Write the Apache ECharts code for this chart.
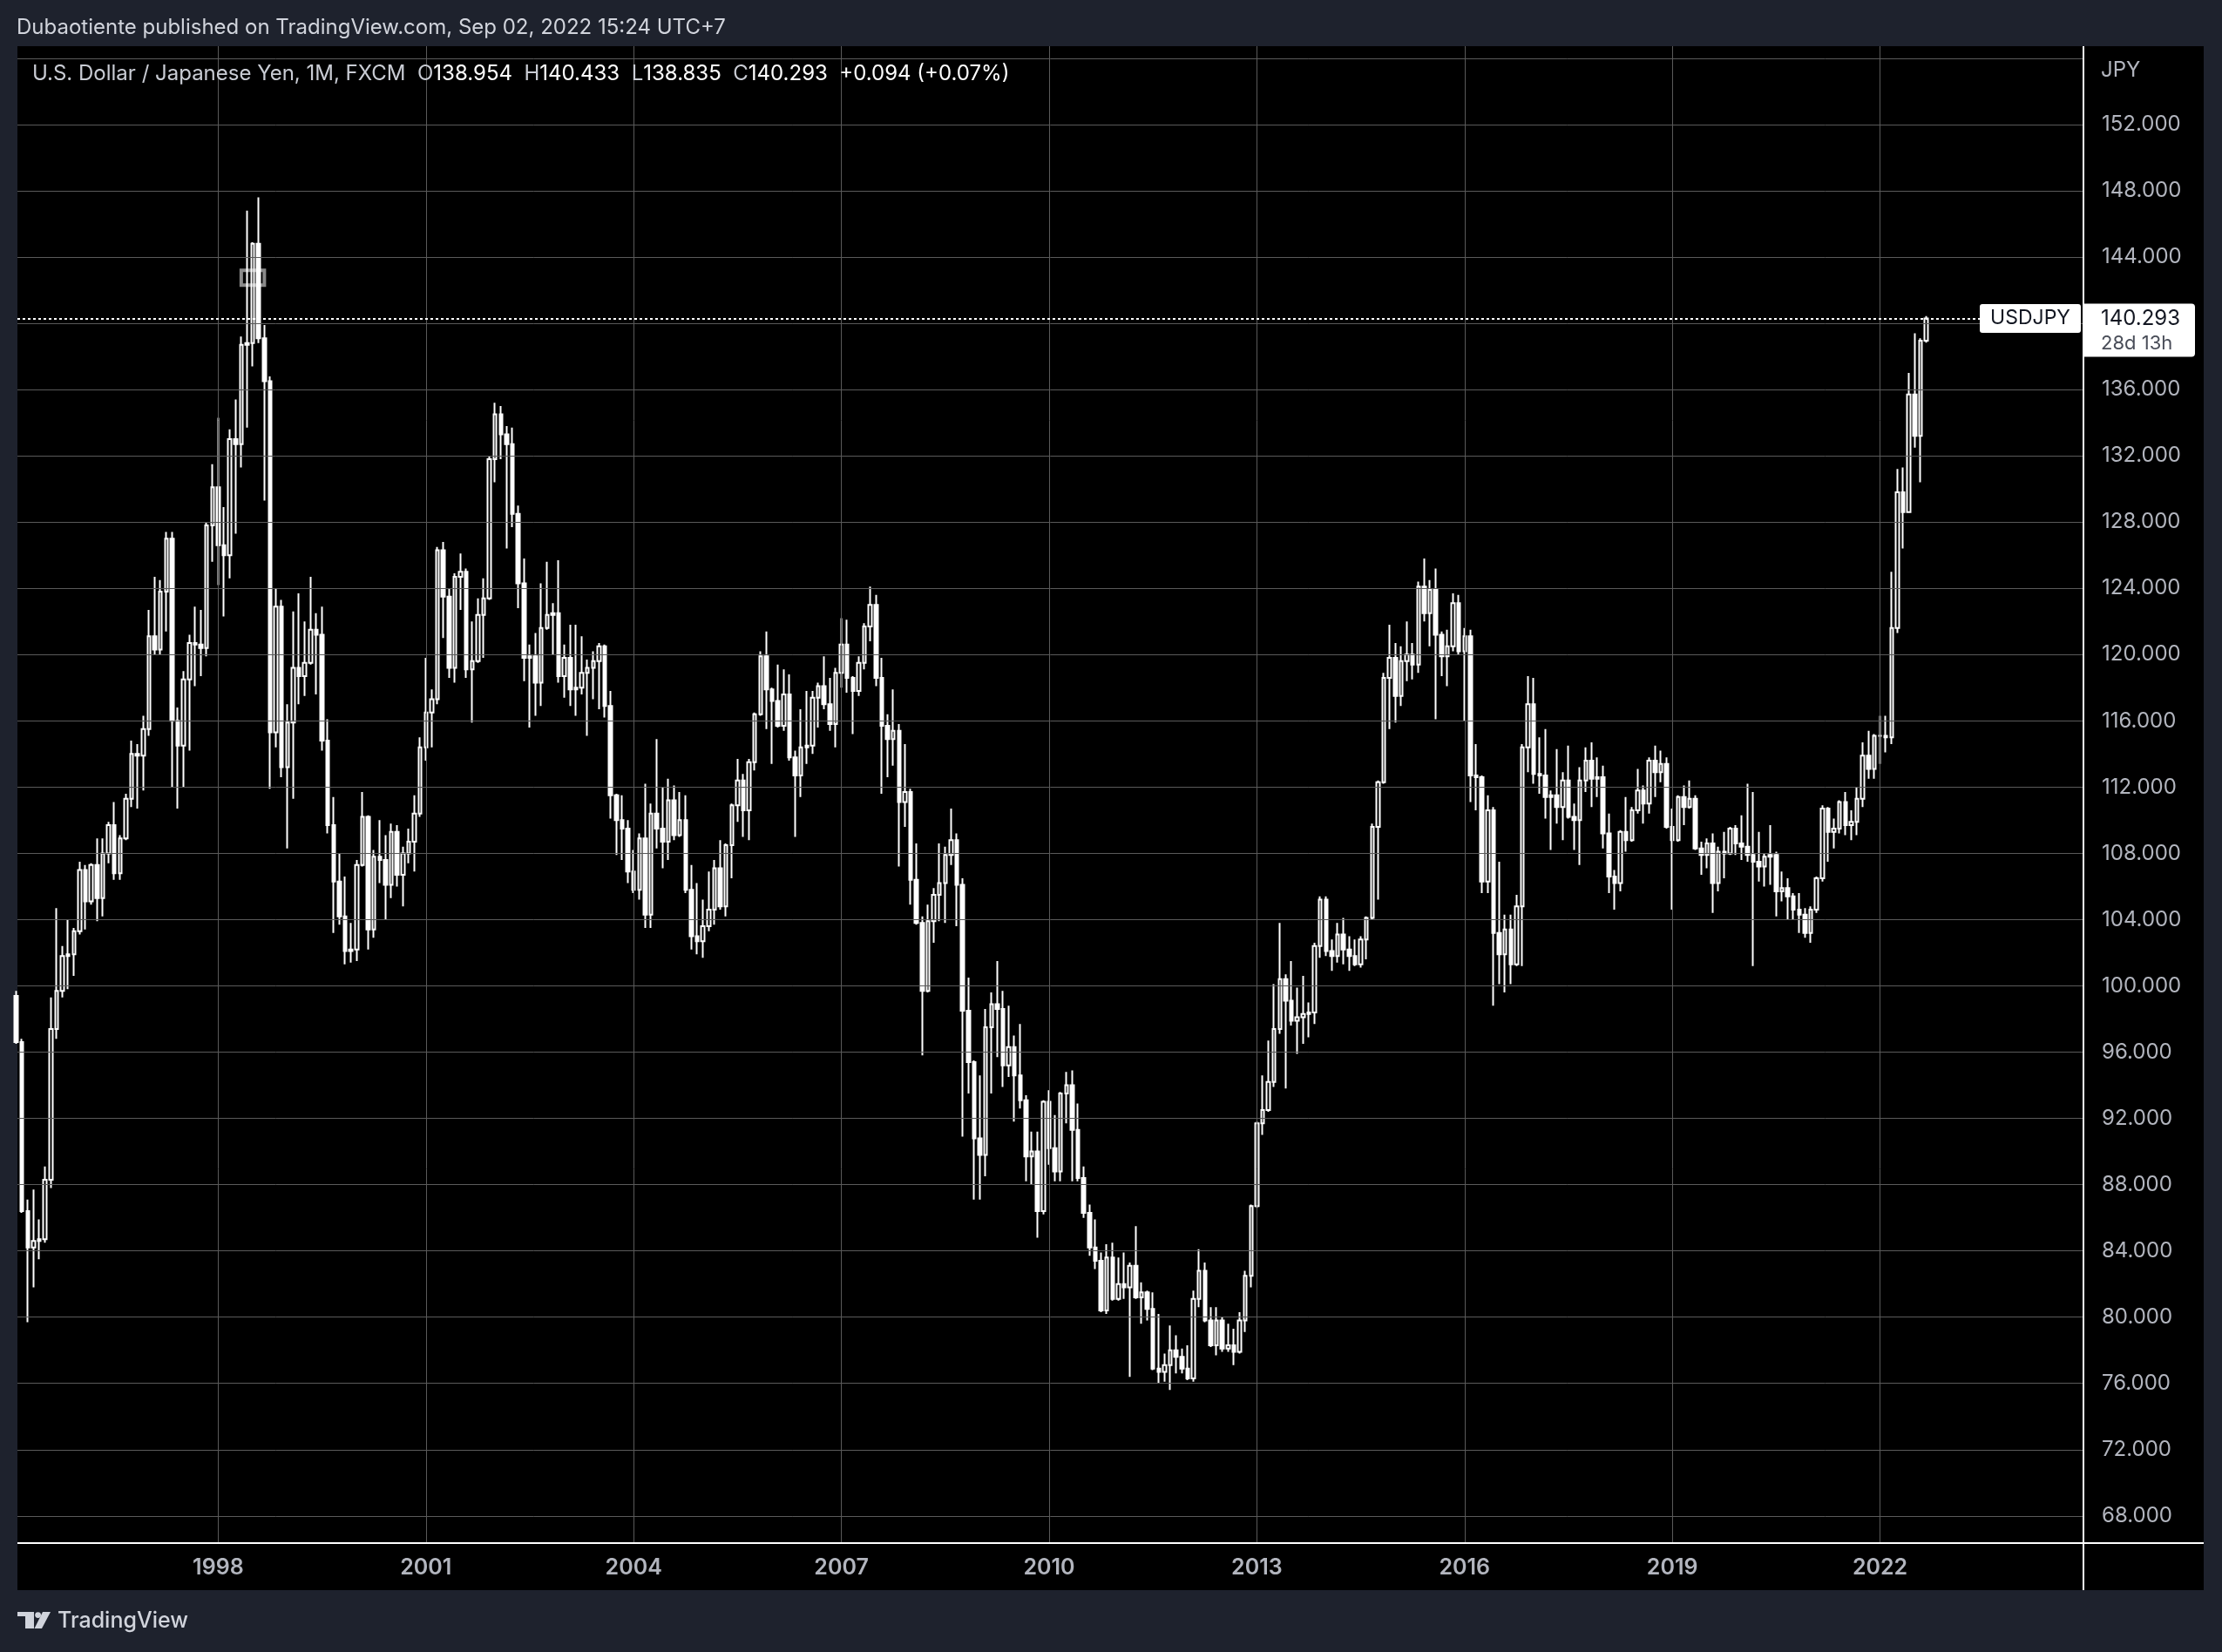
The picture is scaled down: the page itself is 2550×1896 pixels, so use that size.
<!DOCTYPE html>
<html>
<head>
<meta charset="utf-8">
<script src="https://cdn.jsdelivr.net/npm/echarts@6/dist/echarts.min.js"></script>
<style>
html,body{margin:0;padding:0;background:#1e222d;}
#c{width:2550px;height:1896px;}
</style>
</head>
<body>
<div id="c"></div>
<script>
// ---------- DATA ----------
const startYear = 1995, startMonth = 2;   // first monthly candle: Feb 1995
// monthly candles: [open, high, low, close]
const candles = [
  // 1995 (Feb-Dec)
  [99.4,99.7,96.5,96.6],[96.6,96.8,86.3,86.4],[86.4,87.1,79.7,84.2],[84.2,87.7,81.8,84.6],[84.6,85.9,83.5,84.7],[84.7,89.1,84.5,88.3],[88.3,99.3,87.8,97.4],[97.4,104.7,96.8,99.7],[99.7,102.4,99.3,101.8],[101.8,104.0,99.8,101.9],[101.9,103.5,100.6,103.3],
  // 1996
  [103.3,107.5,103.1,107.0],[107.0,107.3,103.4,105.1],[105.1,107.4,104.9,107.3],[107.3,108.9,103.9,105.3],[105.3,108.9,104.2,108.0],[108.0,109.9,107.4,109.7],[109.7,111.1,106.4,106.8],[106.8,109.1,106.4,108.9],[108.9,111.6,108.8,111.3],[111.3,114.8,110.8,114.0],[114.0,114.6,110.7,113.9],[113.9,116.3,111.8,115.5],
  // 1997
  [115.5,122.7,115.1,121.1],[121.1,124.7,120.0,120.3],[120.3,124.5,120.0,123.8],[123.8,127.4,121.4,127.0],[127.0,127.4,112.0,116.0],[116.0,116.8,110.7,114.5],[114.5,119.0,112.0,118.5],[118.5,121.2,114.2,120.7],[120.7,122.9,118.1,120.6],[120.6,122.7,118.7,120.4],[120.4,128.0,119.9,127.8],[127.8,131.5,125.6,130.1],
  // 1998
  [130.1,134.3,124.2,126.6],[126.6,128.9,122.3,126.0],[126.0,133.6,124.6,133.0],[133.0,135.4,127.3,132.7],[132.7,139.2,131.3,138.7],[138.7,146.8,133.7,138.8],[138.8,144.9,137.4,144.8],[144.8,147.6,138.8,139.1],[139.1,139.9,129.3,136.5],[136.5,136.8,111.9,115.3],[115.3,124.0,114.4,122.9],[122.9,123.3,112.6,113.2],
  // 1999
  [113.2,117.0,108.3,115.9],[115.9,122.6,111.3,119.2],[119.2,123.7,117.0,118.7],[118.7,122.0,117.5,119.5],[119.5,124.7,119.4,121.5],[121.5,122.5,117.6,121.2],[121.2,122.9,114.2,114.8],[114.8,116.1,109.2,109.7],[109.7,111.4,103.2,106.3],[106.3,108.0,103.7,104.2],[104.2,106.6,101.3,102.1],[102.1,103.8,101.4,102.2],
  // 2000
  [102.2,107.6,101.5,107.3],[107.3,111.7,107.2,110.2],[110.2,110.3,102.2,103.4],[103.4,108.2,102.9,107.8],[107.8,110.0,106.2,107.6],[107.6,109.1,104.0,106.1],[106.1,109.8,105.3,109.3],[109.3,109.7,106.0,106.7],[106.7,108.4,104.8,108.0],[108.0,109.5,107.4,108.7],[108.7,111.5,106.9,110.4],[110.4,115.0,110.2,114.4],
  // 2001
  [114.4,119.8,113.6,116.5],[116.5,117.9,114.4,117.3],[117.3,126.5,117.0,126.3],[126.3,126.8,121.0,123.5],[123.5,124.0,118.6,119.2],[119.2,124.9,118.3,124.7],[124.7,126.1,122.7,125.0],[125.0,125.2,118.6,119.1],[119.1,122.0,115.9,119.6],[119.6,123.4,119.5,122.4],[122.4,124.6,119.8,123.4],[123.4,132.0,123.3,131.8],
  // 2002
  [131.8,135.2,130.4,134.5],[134.5,135.0,131.8,133.3],[133.3,133.8,126.4,132.7],[132.7,133.7,127.7,128.5],[128.5,129.0,122.8,124.3],[124.3,125.8,118.4,119.8],[119.8,120.6,115.6,119.9],[119.9,121.3,116.3,118.3],[118.3,124.3,116.9,121.6],[121.6,125.6,121.5,122.4],[122.4,123.1,120.0,122.5],[122.5,125.7,118.3,118.7],
  // 2003
  [118.7,120.6,117.4,119.8],[119.8,121.8,116.9,117.9],[117.9,121.8,116.3,118.0],[118.0,121.1,117.6,118.9],[118.9,119.7,115.1,119.2],[119.2,120.2,117.3,119.6],[119.6,120.7,116.7,120.5],[120.5,120.6,116.2,116.9],[116.9,117.8,110.1,111.5],[111.5,111.6,107.9,110.0],[110.0,111.5,107.6,109.5],[109.5,110.0,106.2,106.9],
  // 2004
  [106.9,108.2,105.6,105.8],[105.8,109.2,105.2,108.9],[108.9,112.2,103.5,104.3],[104.3,111.0,103.5,110.4],[110.4,114.9,108.3,109.5],[109.5,112.0,107.1,108.7],[108.7,112.5,107.6,111.2],[111.2,112.1,108.8,109.1],[109.1,111.7,109.0,110.0],[110.0,111.5,105.6,105.8],[105.8,107.3,102.2,103.0],[103.0,106.2,101.9,102.7],
  // 2005
  [102.7,105.2,101.7,103.6],[103.6,106.9,103.3,104.6],[104.6,107.6,103.7,107.1],[107.1,108.8,104.6,104.8],[104.8,108.6,104.2,108.5],[108.5,111.0,106.5,110.9],[110.9,113.7,109.9,112.4],[112.4,112.8,109.0,110.6],[110.6,113.7,108.8,113.5],[113.5,116.5,113.0,116.4],[116.4,120.2,116.3,119.9],[119.9,121.4,115.5,117.9],
  // 2006
  [117.9,118.0,113.4,117.2],[117.2,119.4,115.6,115.7],[115.7,119.1,115.4,117.6],[117.6,118.8,113.6,113.8],[113.8,114.2,109.0,112.7],[112.7,116.7,111.4,114.4],[114.4,117.8,113.4,114.5],[114.5,117.8,114.0,117.4],[117.4,118.3,115.6,118.1],[118.1,119.9,116.7,117.0],[117.0,118.6,115.4,115.8],[115.8,119.2,114.4,118.9],
  // 2007
  [118.9,122.2,118.0,120.6],[120.6,122.1,117.7,118.6],[118.6,118.7,115.2,117.8],[117.8,119.9,117.5,119.5],[119.5,121.9,119.1,121.7],[121.7,124.1,120.8,123.0],[123.0,123.6,118.1,118.6],[118.6,119.8,111.6,115.7],[115.7,116.4,112.6,114.9],[114.9,117.9,113.3,115.4],[115.4,115.8,107.2,111.1],[111.1,114.6,109.6,111.7],
  // 2008
  [111.7,111.9,104.9,106.4],[106.4,108.6,103.7,103.8],[103.8,104.2,95.8,99.7],[99.7,104.9,99.6,103.9],[103.9,105.9,102.6,105.5],[105.5,108.6,103.9,106.2],[106.2,108.4,103.8,107.9],[107.9,110.7,107.3,108.8],[108.8,109.2,103.6,106.1],[106.1,106.5,90.9,98.5],[98.5,100.5,93.5,95.4],[95.4,95.5,87.1,90.8],
  // 2009
  [90.8,94.6,87.1,89.8],[89.8,98.6,88.5,97.5],[97.5,99.6,93.5,98.9],[98.9,101.5,95.7,98.6],[98.6,99.7,93.9,95.2],[95.2,98.8,94.5,96.3],[96.3,97.0,91.8,94.6],[94.6,97.7,92.6,93.1],[93.1,93.4,88.2,89.7],[89.7,91.2,88.0,90.0],[90.0,91.2,84.8,86.4],[86.4,93.1,86.2,93.0],
  // 2010
  [93.0,93.7,89.2,90.2],[90.2,92.2,88.2,88.8],[88.8,93.6,88.2,93.5],[93.5,94.8,91.7,94.0],[94.0,94.9,88.2,91.3],[91.3,92.9,88.2,88.4],[88.4,89.1,86.0,86.3],[86.3,86.8,83.7,84.2],[84.2,85.9,82.9,83.4],[83.4,83.9,80.3,80.4],[80.4,84.4,80.2,83.6],[83.6,84.5,81.0,81.1],
  // 2011
  [81.1,83.6,81.0,82.0],[82.0,83.9,81.1,81.8],[81.8,83.3,76.4,83.1],[83.1,85.5,81.1,81.2],[81.2,82.1,79.6,81.5],[81.5,81.6,79.8,80.5],[80.5,81.5,76.8,76.9],[76.9,80.2,76.0,76.7],[76.7,77.8,76.1,77.1],[77.1,79.5,75.6,78.0],[78.0,78.9,76.6,77.6],[77.6,78.1,76.6,76.9],
  // 2012
  [76.9,78.3,76.2,76.3],[76.3,81.6,76.1,81.1],[81.1,84.1,80.6,82.8],[82.8,83.3,79.7,79.8],[79.8,80.6,78.2,78.3],[78.3,80.6,77.7,79.8],[79.8,80.0,77.9,78.1],[78.1,79.6,77.9,78.3],[78.3,79.3,77.1,77.9],[77.9,80.3,77.8,79.8],[79.8,82.8,79.1,82.5],[82.5,86.8,81.8,86.7],
  // 2013
  [86.7,91.8,86.6,91.7],[91.7,94.6,91.0,92.5],[92.5,96.7,92.4,94.2],[94.2,100.1,93.9,97.4],[97.4,103.8,97.1,100.4],[100.4,100.7,93.8,99.1],[99.1,101.5,97.6,97.9],[97.9,99.9,95.9,98.1],[98.1,100.6,96.5,98.3],[98.3,99.0,96.9,98.4],[98.4,102.6,97.7,102.4],[102.4,105.4,101.7,105.2],
  // 2014
  [105.2,105.4,101.8,102.1],[102.1,102.8,100.9,101.8],[101.8,103.8,101.4,103.1],[103.1,104.1,101.3,102.2],[102.2,103.0,100.9,101.8],[101.8,102.8,101.2,101.3],[101.3,103.0,101.1,102.8],[102.8,104.2,101.6,104.1],[104.1,109.8,104.0,109.6],[109.6,112.4,105.2,112.3],[112.3,118.9,112.2,118.6],[118.6,121.8,115.5,119.8],
  // 2015
  [119.8,120.7,115.9,117.5],[117.5,120.5,116.9,119.6],[119.6,122.0,118.4,120.0],[120.0,120.7,118.5,119.4],[119.4,124.4,118.9,124.1],[124.1,125.8,122.0,122.5],[122.5,124.5,120.5,123.9],[123.9,125.2,116.1,121.2],[121.2,121.4,118.7,119.9],[119.9,121.5,118.1,120.5],[120.5,123.7,120.2,123.1],[123.1,123.6,120.0,120.2],
  // 2016
  [120.2,121.6,116.0,121.1],[121.1,121.5,111.1,112.7],[112.7,114.6,110.6,112.6],[112.6,112.7,105.6,106.3],[106.3,111.5,105.6,110.6],[110.6,110.8,98.8,103.2],[103.2,107.5,100.1,101.9],[101.9,104.3,99.6,103.4],[103.4,104.3,100.1,101.3],[101.3,105.5,101.2,104.8],[104.8,114.6,101.2,114.4],[114.4,118.7,112.9,117.0],
  // 2017
  [117.0,118.6,112.2,112.8],[112.8,115.0,111.6,112.7],[112.7,115.5,110.1,111.4],[111.4,111.8,108.2,111.5],[111.5,114.3,109.8,110.8],[110.8,112.9,108.8,112.4],[112.4,114.5,110.1,110.2],[110.2,111.0,108.2,110.0],[110.0,113.2,107.3,112.4],[112.4,114.4,111.7,113.6],[113.6,114.7,110.8,112.5],[112.5,113.8,111.4,112.6],
  // 2018
  [112.6,113.3,108.3,109.2],[109.2,110.4,105.6,106.6],[106.6,107.0,104.6,106.2],[106.2,109.4,105.7,109.3],[109.3,111.4,108.1,108.8],[108.8,110.8,108.7,110.6],[110.6,113.1,110.4,111.8],[111.8,112.1,109.8,111.0],[111.0,113.8,110.4,113.6],[113.6,114.5,111.4,112.9],[112.9,114.2,112.3,113.4],[113.4,113.8,109.5,109.6],
  // 2019
  [109.6,110.7,104.6,108.8],[108.8,111.5,108.7,111.4],[111.4,112.1,109.7,110.8],[110.8,112.4,110.7,111.3],[111.3,111.5,108.2,108.3],[108.3,108.7,106.7,107.9],[107.9,108.9,107.1,108.6],[108.6,109.2,104.4,106.2],[106.2,108.4,105.7,108.1],[108.1,109.3,106.5,108.0],[108.0,109.6,107.9,109.5],[109.5,109.7,107.9,108.6],
  // 2020
  [108.6,110.3,107.6,108.4],[108.4,112.2,107.5,107.9],[107.9,111.7,101.2,107.5],[107.5,109.3,106.3,107.2],[107.2,108.0,106.0,107.8],[107.8,109.7,106.1,107.9],[107.9,108.1,104.2,105.7],[105.7,106.9,105.1,105.9],[105.9,106.5,104.0,105.4],[105.4,105.6,104.0,104.6],[104.6,105.6,103.2,104.3],[104.3,104.7,102.9,103.2],
  // 2021
  [103.2,104.8,102.6,104.6],[104.6,106.6,104.4,106.5],[106.5,110.9,106.3,110.7],[110.7,110.8,107.5,109.3],[109.3,110.1,108.3,109.5],[109.5,111.2,109.2,111.1],[111.1,111.7,109.1,109.7],[109.7,110.6,108.8,109.9],[109.9,112.0,109.1,111.3],[111.3,114.7,110.8,113.9],[113.9,115.4,112.5,113.1],[113.1,115.2,112.5,115.1],
  // 2022 (Jan-Sep)
  [115.1,116.3,113.4,115.1],[115.1,116.3,114.1,115.0],[115.0,125.0,114.6,121.6],[121.6,131.2,121.3,129.8],[129.8,131.3,126.4,128.6],[128.6,137.0,128.6,135.7],[135.7,139.4,132.5,133.2],[133.2,139.1,130.4,138.954],[138.954,140.433,138.835,140.293]
];
const yearTicks = [1998, 2001, 2004, 2007, 2010, 2013, 2016, 2019, 2022];
const priceTicks = [68, 72, 76, 80, 84, 88, 92, 96, 100, 104, 108, 112, 116, 120, 124, 128, 132, 136, 140, 144, 148, 152];
const priceGrid = priceTicks.concat([156]);
const headerText = 'Dubaotiente published on TradingView.com, Sep 02, 2022 15:24 UTC+7';
const symbolName = 'U.S. Dollar / Japanese Yen, 1M, FXCM';
const lastBar = { o: '138.954', h: '140.433', l: '138.835', c: '140.293', chg: '+0.094 (+0.07%)' };
const countdown = '28d 13h';

// ---------- BUILD ----------
const baseYear = 1998;
const monthIndex = (y, m) => (y - baseYear) * 12 + (m - 1);
const seriesData = candles.map((c, i) => {
  const t = (startMonth - 1) + i;
  const y = startYear + Math.floor(t / 12);
  const m = (t % 12) + 1;
  return [monthIndex(y, m), c[0], c[3], c[2], c[1]];
});
const lastClose = candles[candles.length - 1][3];

const FONT = 'Inter, "Noto Sans", Roboto, sans-serif';
const GRID_COLOR = '#5a5a5a';
const AXIS_TEXT = '#b2b5be';

const chart = echarts.init(document.getElementById('c'), null, { width: 2550, height: 1896 });

chart.setOption({
  backgroundColor: '#1e222d',
  animation: false,
  grid: { left: 20, right: 159, top: 53, bottom: 125 },
  xAxis: {
    type: 'value', min: -34.79, max: 323.25,
    axisLine: { show: false }, axisTick: { show: false }, splitLine: { show: false },
    axisLabel: {
      customValues: yearTicks.map(y => monthIndex(y, 1)),
      formatter: v => String(baseYear + Math.round(v / 12)),
      color: AXIS_TEXT, fontSize: 25, fontWeight: 600, fontFamily: FONT, margin: 16
    }
  },
  yAxis: {
    type: 'value', position: 'right', min: 66.36, max: 156.73,
    axisLine: { show: false }, axisTick: { show: false }, splitLine: { show: false },
    axisLabel: {
      customValues: priceTicks,
      formatter: v => v.toFixed(3),
      color: AXIS_TEXT, fontSize: 24, fontFamily: FONT, margin: 21
    }
  },
  series: [
    {
      type: 'line', data: [], z: 1, silent: true,
      markLine: {
        silent: true, animation: false, symbol: ['none', 'none'], label: { show: false },
        lineStyle: { color: GRID_COLOR, width: 1, type: 'solid' },
        emphasis: { disabled: true },
        data: priceGrid.map(p => ({ yAxis: p })).concat(yearTicks.map(y => ({ xAxis: monthIndex(y, 1) })))
      }
    },
    {
      type: 'candlestick', name: 'USDJPY', z: 2, clip: true,
      data: seriesData, encode: { x: 0, y: [1, 2, 3, 4] },
      barWidth: 4,
      itemStyle: {
        color: 'rgba(0,0,0,0)', color0: '#ffffff',
        borderColor: '#ffffff', borderColor0: '#ffffff', borderColorDoji: '#ffffff',
        borderWidth: 2
      }
    },
    {
      type: 'line', data: [], z: 5, silent: true,
      markLine: {
        silent: true, animation: false, symbol: ['none', 'none'], label: { show: false },
        lineStyle: { color: '#ffffff', width: 2, type: [3, 3] },
        emphasis: { disabled: true },
        data: [{ yAxis: lastClose }]
      },
      markArea: {
        silent: true, animation: false,
        itemStyle: { color: '#000000', borderColor: '#8a8a8a', borderWidth: 4 },
        emphasis: { disabled: true },
        data: [[{ xAxis: monthIndex(1998, 5), yAxis: 143.2 }, { xAxis: monthIndex(1998, 9), yAxis: 142.3 }]]
      }
    }
  ]
});

const py = chart.convertToPixel({ yAxisIndex: 0 }, lastClose);

const textEl = (id, x, y, text, size, fill, extra) => Object.assign({
  type: 'text', id, x, y, silent: true, z: 100,
  style: Object.assign({ text, fill, fontSize: size, fontFamily: FONT, align: 'left', verticalAlign: 'middle' }, extra || {})
});

chart.setOption({
  graphic: [
    { type: 'rect', id: 'panel', silent: true, z: -100, shape: { x: 20, y: 53, width: 2509, height: 1772 }, style: { fill: '#000000' } },
    textEl('header', 19, 32, headerText, 24, '#d1d4dc'),
    textEl('legend', 37, 85,
      '{t|' + symbolName + '}  {t|O}{v|' + lastBar.o + '}  {t|H}{v|' + lastBar.h + '}  {t|L}{v|' + lastBar.l + '}  {t|C}{v|' + lastBar.c + '}  {v|' + lastBar.chg + '}',
      24, '#d1d4dc',
      { rich: { t: { fill: '#c9ccd4', fontSize: 24, fontFamily: FONT }, v: { fill: '#ffffff', fontSize: 24, fontFamily: FONT } } }),
    textEl('jpy', 2411, 81, 'JPY', 24, AXIS_TEXT),
    { type: 'line', id: 'vsep', silent: true, z: 60, shape: { x1: 2391, y1: 53, x2: 2391, y2: 1825 }, style: { stroke: '#ffffff', lineWidth: 2 } },
    { type: 'line', id: 'hsep', silent: true, z: 60, shape: { x1: 20, y1: 1771, x2: 2529, y2: 1771 }, style: { stroke: '#ffffff', lineWidth: 2 } },
    { type: 'rect', id: 'symBox', silent: true, z: 90, shape: { x: 2272, y: py - 16.5, width: 116, height: 33, r: 3 }, style: { fill: '#ffffff' } },
    textEl('symText', 2330, py, 'USDJPY', 23, '#131722', { align: 'center' }),
    { type: 'rect', id: 'priceBox', silent: true, z: 90, shape: { x: 2392, y: py - 17, width: 127, height: 61, r: [0, 4, 4, 0] }, style: { fill: '#ffffff' } },
    textEl('priceText', 2411, py, lastClose.toFixed(3), 24, '#131722'),
    textEl('cdText', 2411, py + 29, countdown, 22, '#4a4e59'),
    // TradingView logo + wordmark
    { type: 'rect', id: 'lg1', silent: true, z: 100, shape: { x: 20, y: 1850, width: 19, height: 5 }, style: { fill: '#d1d4dc' } },
    { type: 'rect', id: 'lg2', silent: true, z: 100, shape: { x: 29, y: 1850, width: 10, height: 19 }, style: { fill: '#d1d4dc' } },
    { type: 'circle', id: 'lg3', silent: true, z: 100, shape: { cx: 43.6, cy: 1853.6, r: 3.4 }, style: { fill: '#d1d4dc' } },
    { type: 'polygon', id: 'lg4', silent: true, z: 100, shape: { points: [[49, 1850], [58, 1850], [48, 1869], [39.5, 1869]] }, style: { fill: '#d1d4dc' } },
    textEl('tv', 66, 1860, 'TradingView', 25, '#d1d4dc', { fontWeight: 500 })
  ]
});
</script>
</body>
</html>
